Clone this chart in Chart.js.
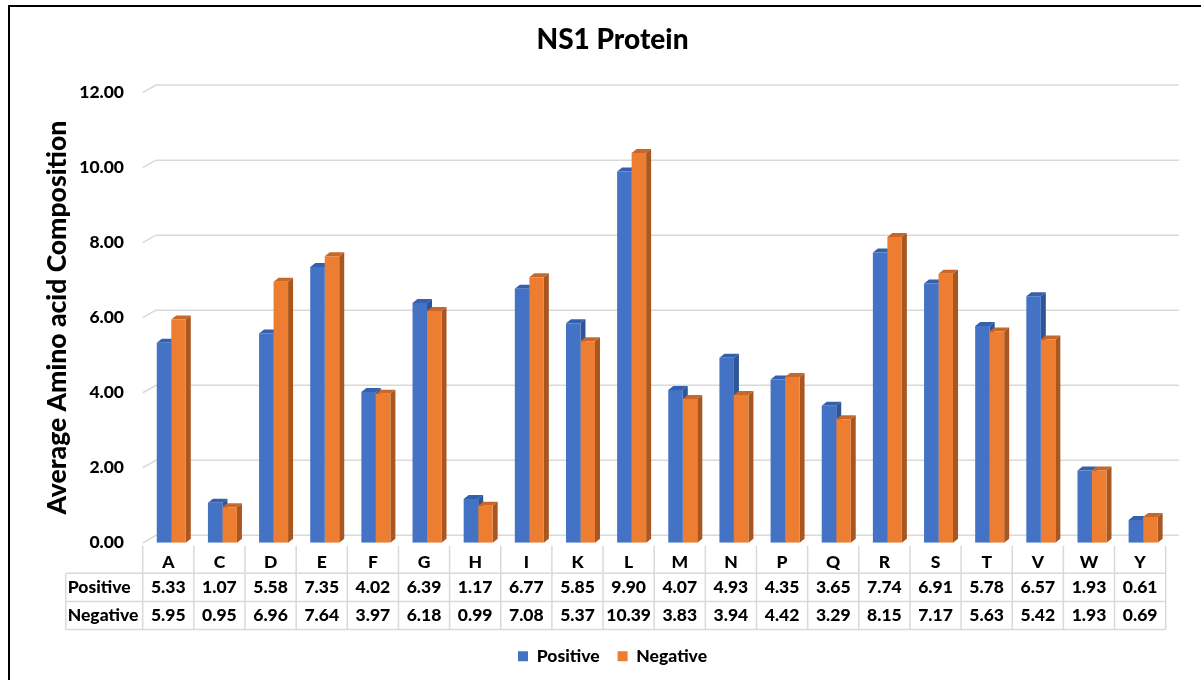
<!DOCTYPE html>
<html>
<head>
<meta charset="utf-8">
<script src="https://cdn.jsdelivr.net/npm/chart.js@4"></script>
<style>
  body { margin: 0; background: #fff; }
  #wrap { width: 1201px; height: 680px; }
</style>
</head>
<body>
<div id="wrap"><canvas id="chart"></canvas></div>
<script>
const categories = ['A', 'C', 'D', 'E', 'F', 'G', 'H', 'I', 'K', 'L', 'M', 'N', 'P', 'Q', 'R', 'S', 'T', 'V', 'W', 'Y'];
const positive = [5.33, 1.07, 5.58, 7.35, 4.02, 6.39, 1.17, 6.77, 5.85, 9.90, 4.07, 4.93, 4.35, 3.65, 7.74, 6.91, 5.78, 6.57, 1.93, 0.61];
const negative = [5.95, 0.95, 6.96, 7.64, 3.97, 6.18, 0.99, 7.08, 5.37, 10.39, 3.83, 3.94, 4.42, 3.29, 8.15, 7.17, 5.63, 5.42, 1.93, 0.69];
const seriesNames = ['Positive', 'Negative'];
const yMin = 0, yMax = 12, yStep = 2;

const FONT = 'Lato, "Open Sans", sans-serif';
const colors = {
  front: ['#4472C4', '#ED7D31'],
  top: ['#3560AE', '#C8672A'],
  side: ['#2F5597', '#A9561F']
};
const depth = { dx: 5, dy: -4 };
const wall = { dx: 13.3, dy: -7.5 };
const shift = 3; // bars sit a little right of the table columns

// white page, black frame on top and left
const frame = {
  id: 'frame',
  beforeDraw(chart) {
    const ctx = chart.ctx;
    ctx.save();
    ctx.fillStyle = '#fff';
    ctx.fillRect(0, 0, chart.width, chart.height);
    ctx.fillStyle = '#000';
    ctx.fillRect(8, 5, chart.width - 8, 2);
    ctx.fillRect(8, 5, 2, chart.height - 5);
    ctx.restore();
  }
};

// back-wall gridlines and 3D faces of the bars
const threeD = {
  id: 'threeD',
  beforeDatasetsDraw(chart) {
    const ctx = chart.ctx;
    const y = chart.scales.y;
    const area = chart.chartArea;
    ctx.save();
    ctx.strokeStyle = '#D9D9D9';
    ctx.lineWidth = 1.5;
    y.ticks.forEach(t => {
      const py = y.getPixelForValue(t.value);
      ctx.beginPath();
      ctx.moveTo(area.left - shift, py);
      ctx.lineTo(area.left - shift + wall.dx, py + wall.dy);
      ctx.lineTo(area.right - shift + wall.dx, py + wall.dy);
      ctx.stroke();
    });
    for (let i = 0; i < categories.length; i++) {
      [0, 1].forEach(d => {
        const bar = chart.getDatasetMeta(d).data[i];
        const l = bar.x - bar.width / 2, r = bar.x + bar.width / 2;
        ctx.fillStyle = colors.top[d];
        ctx.beginPath();
        ctx.moveTo(l, bar.y);
        ctx.lineTo(r, bar.y);
        ctx.lineTo(r + depth.dx, bar.y + depth.dy);
        ctx.lineTo(l + depth.dx, bar.y + depth.dy);
        ctx.closePath();
        ctx.fill();
        ctx.fillStyle = colors.side[d];
        ctx.beginPath();
        ctx.moveTo(r, bar.y);
        ctx.lineTo(r + depth.dx, bar.y + depth.dy);
        ctx.lineTo(r + depth.dx, bar.base + depth.dy);
        ctx.lineTo(r, bar.base);
        ctx.closePath();
        ctx.fill();
      });
    }
    ctx.restore();
  }
};

// data table under the plot
const dataTable = {
  id: 'dataTable',
  afterDraw(chart) {
    const ctx = chart.ctx;
    const x = chart.scales.x;
    const bottom = chart.chartArea.bottom;
    const n = categories.length;
    const colW = x.width / n;
    const left0 = x.left - shift;
    const right0 = left0 + n * colW;
    const labelLeft = 65.7;
    const rows = [bottom + 3, bottom + 30.4, bottom + 58.7, bottom + 86.7];

    ctx.save();
    ctx.strokeStyle = '#D9D9D9';
    ctx.lineWidth = 1.5;
    ctx.beginPath();
    for (let i = 0; i <= n; i++) {
      const px = left0 + i * colW;
      ctx.moveTo(px, rows[0]);
      ctx.lineTo(px, rows[3]);
    }
    ctx.moveTo(labelLeft, rows[1]);
    ctx.lineTo(labelLeft, rows[3]);
    for (let r = 1; r <= 3; r++) {
      ctx.moveTo(labelLeft, rows[r]);
      ctx.lineTo(right0, rows[r]);
    }
    ctx.stroke();

    ctx.fillStyle = '#000';
    ctx.font = '900 17.5px ' + FONT;
    ctx.textBaseline = 'middle';
    const yLetters = bottom + 19.4;
    const yPos = (rows[1] + rows[2]) / 2;
    const yNeg = (rows[2] + rows[3]) / 2;
    ctx.textAlign = 'left';
    ctx.fillText(seriesNames[0], labelLeft + 2, yPos);
    ctx.fillText(seriesNames[1], labelLeft + 2, yNeg);
    ctx.textAlign = 'center';
    for (let i = 0; i < n; i++) {
      const cx = left0 + (i + 0.5) * colW;
      ctx.fillText(categories[i], cx, yLetters);
      ctx.fillText(positive[i].toFixed(2), cx, yPos);
      ctx.fillText(negative[i].toFixed(2), cx, yNeg);
    }
    ctx.restore();
  }
};

new Chart(document.getElementById('chart'), {
  type: 'bar',
  data: {
    labels: categories,
    datasets: [
      {
        label: seriesNames[0],
        data: positive,
        backgroundColor: colors.front[0],
        borderWidth: 0
      },
      {
        label: seriesNames[1],
        data: negative,
        backgroundColor: colors.front[1],
        borderWidth: 0
      }
    ]
  },
  options: {
    responsive: true,
    maintainAspectRatio: false,
    animation: false,
    categoryPercentage: 0.567,
    barPercentage: 1.0,
    layout: { padding: { left: 28, right: 4, top: 0, bottom: 5 } },
    plugins: {
      title: {
        display: true,
        text: 'NS1 Protein',
        color: '#000',
        font: { family: FONT, size: 28, weight: 900 },
        padding: { top: 23, bottom: 36 }
      },
      legend: {
        position: 'bottom',
        labels: {
          color: '#000',
          font: { family: FONT, size: 17.5, weight: 900 },
          boxWidth: 10,
          boxHeight: 10,
          padding: 18
        }
      },
      tooltip: { enabled: false }
    },
    scales: {
      x: {
        ticks: { display: false },
        grid: { display: false },
        border: { display: false },
        afterFit: (scale) => { scale.height = 86.7; }
      },
      y: {
        min: yMin,
        max: yMax,
        ticks: {
          stepSize: yStep,
          padding: 21.7,
          color: '#000',
          font: { family: FONT, size: 17.5, weight: 900 },
          callback: (v) => Number(v).toFixed(2)
        },
        grid: { display: false, drawTicks: false },
        border: { display: false },
        title: {
          display: true,
          text: 'Average Amino acid Composition',
          color: '#000',
          font: { family: FONT, size: 26.5, weight: 900 },
          padding: { top: 14, bottom: 0 }
        },
        afterFit: (scale) => { scale.width = 117.7; }
      },
      y2: {
        position: 'right',
        ticks: { display: false },
        grid: { display: false },
        border: { display: false },
        afterFit: (scale) => { scale.width = 28.3; }
      }
    }
  },
  plugins: [frame, threeD, dataTable]
});
</script>
</body>
</html>
